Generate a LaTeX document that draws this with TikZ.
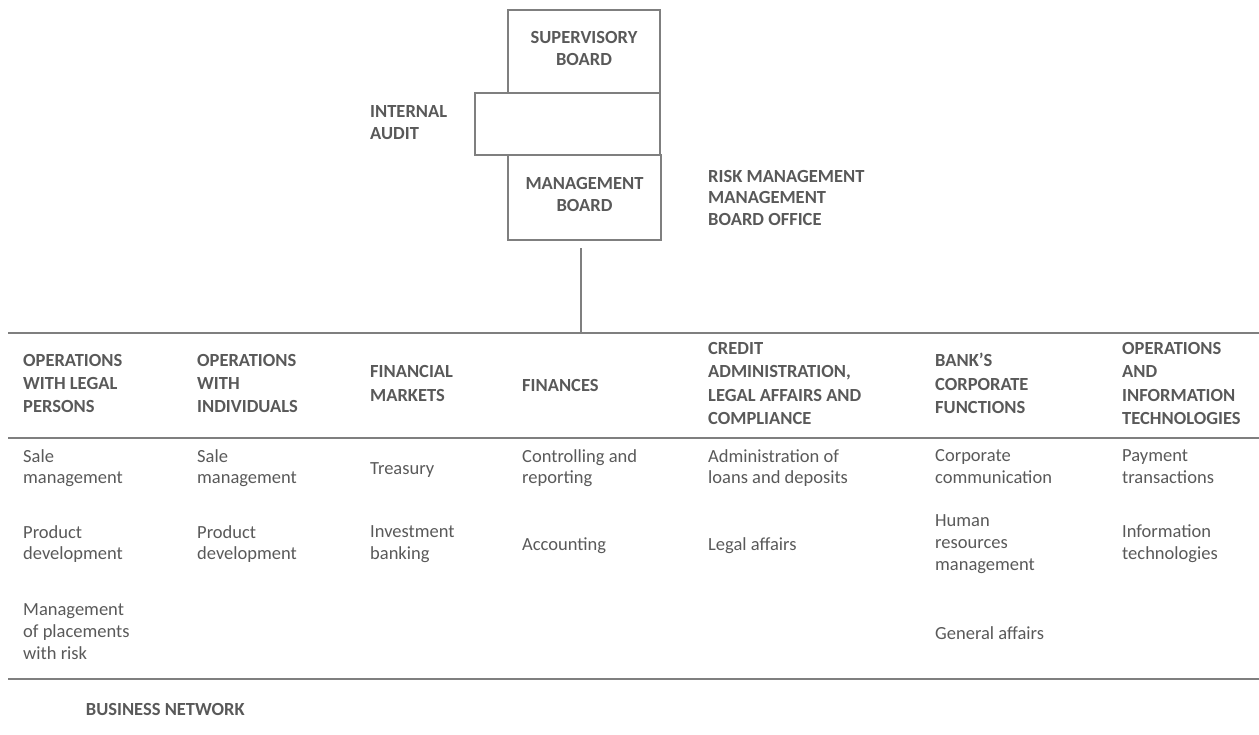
\documentclass[tikz,border=0pt]{standalone}
\usepackage{fontspec}
\setmainfont{Carlito}
\definecolor{txtgray}{HTML}{595959}
\definecolor{linegray}{HTML}{7F7F7F}
\tikzset{
  rulestroke/.style={draw=linegray, line width=2.25pt},
  conn/.style={draw=linegray, line width=1.3pt},
  frame/.style={rectangle, draw=linegray, line width=2.25pt, inner sep=0pt},
  boxtext/.style={frame, align=center, text=txtgray,
    font=\bfseries\fontsize{18.5}{21.7}\selectfont,
    execute at begin node={\rule{0pt}{21.9pt}}, execute at end node=\strut},
  hdr/.style={anchor=west, inner sep=0pt, align=left, text=txtgray,
    font=\bfseries\fontsize{18.5}{23.3}\selectfont,
    execute at begin node=\strut, execute at end node=\strut},
  item/.style={anchor=west, inner sep=0pt, align=left, text=txtgray,
    font=\fontsize{18.5}{21.7}\selectfont,
    execute at begin node=\strut, execute at end node=\strut},
  sidelabel/.style={item, font=\bfseries\fontsize{18.5}{21.9}\selectfont},
}
\begin{document}
\begin{tikzpicture}[x=1pt,y=-1pt]
\useasboundingbox (0,0) rectangle (1259,735);

% governing bodies
\node[boxtext, minimum width=152pt, minimum height=83pt] (sb) at (584,51.5) {SUPERVISORY\\BOARD};
\node[frame, minimum width=185pt, minimum height=62pt] (ia) at (567.5,124) {};
\node[boxtext, minimum width=153pt, minimum height=85pt] (mb) at (584.5,197.5) {MANAGEMENT\\BOARD};
\node[sidelabel] (audit) at (370,126.2) {INTERNAL\\AUDIT};
\node[sidelabel] (risk) at (708,201.2) {RISK MANAGEMENT\\MANAGEMENT\\BOARD OFFICE};

% table rules
\coordinate (r1w) at (8,333);   \coordinate (r1e) at (1262,333);
\coordinate (r2w) at (8,438);   \coordinate (r2e) at (1262,438);
\coordinate (r3w) at (8,679);   \coordinate (r3e) at (1262,679);
\draw[rulestroke] (r1w) -- (r1e);
\draw[rulestroke] (r2w) -- (r2e);
\draw[rulestroke] (r3w) -- (r3e);

% management board down to the divisions
\draw[conn] ([xshift=-3.5pt,yshift=-7pt]mb.south) -- ([xshift=-3.5pt]mb.south |- r1w);

% division headers
\node[hdr] (h1) at (23,387)   {OPERATIONS\\WITH LEGAL\\PERSONS};
\node[hdr] (h2) at (197,387)  {OPERATIONS\\WITH\\INDIVIDUALS};
\node[hdr] (h3) at (370,387)  {FINANCIAL\\MARKETS};
\node[hdr] (h4) at (522,387)  {FINANCES};
\node[hdr] (h5) at (708,387)  {CREDIT\\ADMINISTRATION,\\LEGAL AFFAIRS AND\\COMPLIANCE};
\node[hdr] (h6) at (935,387)  {BANK’S\\CORPORATE\\FUNCTIONS};
\node[hdr] (h7) at (1122,387) {OPERATIONS\\AND\\INFORMATION\\TECHNOLOGIES};

% organisational units, first row
\node[item] (u11) at (23,469.7)   {Sale\\management};
\node[item] (u21) at (197,469.7)  {Sale\\management};
\node[item] (u31) at (370,469.7)  {Treasury};
\node[item] (u41) at (522,469.7)  {Controlling and\\reporting};
\node[item] (u51) at (708,469.7)  {Administration of\\loans and deposits};
\node[item] (u61) at (935,469.7)  {Corporate\\communication};
\node[item] (u71) at (1122,469.7) {Payment\\transactions};

% second row
\node[item] (u12) at (23,545.7)   {Product\\development};
\node[item] (u22) at (197,545.7)  {Product\\development};
\node[item] (u32) at (370,545.7)  {Investment\\banking};
\node[item] (u42) at (522,545.7)  {Accounting};
\node[item] (u52) at (708,545.7)  {Legal affairs};
\node[item] (u62) at (935,545.7)  {Human\\resources\\management};
\node[item] (u72) at (1122,545.7) {Information\\technologies};

% third row
\node[item] (u13) at (23,634.7)  {Management\\of placements\\with risk};
\node[item] (u63) at (935,634.7) {General affairs};

% footer
\node[sidelabel] (net) at (85.7,711.4) {BUSINESS NETWORK};
\end{tikzpicture}
\end{document}
